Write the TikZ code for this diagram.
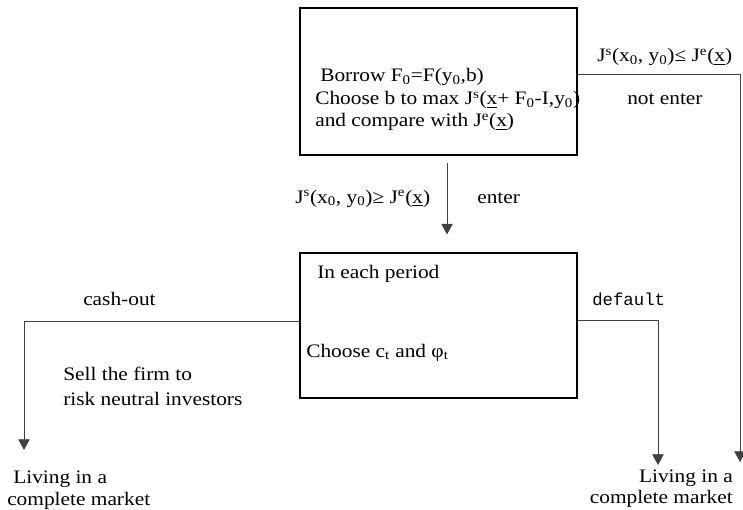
\documentclass[tikz,border=0pt]{standalone}
\usepackage{fontspec}
\setmainfont[FakeStretch=1.12]{Liberation Serif}
\setmonofont{Liberation Mono}
\usetikzlibrary{arrows.meta}
\newcommand{\xu}{\underline{x}}
\newcommand{\J}[1]{J\textsuperscript{#1}}
\newcommand{\sub}[1]{\textsubscript{#1}}
\tikzset { boite/.style={draw, line width=.8pt, minimum width=207.75pt, minimum height=#1},
  fleche/.style={draw=black!75, line width=.6pt, -{Triangle[width=8.5pt,length=8pt]}},
  texte/.style={anchor=base west, inner sep=0pt, font=\fontsize{14.3}{17}\selectfont},
  texted/.style={texte, anchor=base east} }

\begin{document}
\begin{tikzpicture}[x=.75pt, y=-.75pt]
  \useasboundingbox (0,0) rectangle (743,510);
	\node[boite=110.25pt] (haut) at (438.5,81.5) {};
	\node[boite=108.75pt] (bas) at (438.5,325.5) {};
	% texte des boites
	\node[texte] (h1) at (320,82) {Borrow F\sub{0}=F(y\sub{0},b)};
	\node[texte] (h2) at (315,105) {Choose b to max \J{s}(\xu+ F\sub{0}-I,y\sub{0})};
	\node[texte] (h3) at (315,127) {and compare with \J{e}(\xu)};
	\node[texte] (b1) at (317,278) {In each period};
	\node[texte] (b2) at (306,357) {Choose c\sub{t} and φ\sub{t}};
	% fleches
	\coordinate (fin1) at (24,450);
	\coordinate (fin2) at (658,465);
	\coordinate (fin3) at (740,462);
	\draw[fleche] ([xshift=6.4pt,yshift=-5.25pt]haut.south) -- ([xshift=6.4pt,yshift=13.5pt]bas.north);
	\draw[fleche] ([yshift=5.6pt]haut.east) -| (fin3);
	\draw[fleche] ([yshift=4.1pt]bas.east) -| (fin2);
	\draw[fleche] ([yshift=3.4pt]bas.west) -| (fin1);
	% etiquettes
	\node[texte] (ne) at (597,62) {\J{s}(x\sub{0}, y\sub{0})≤ \J{e}(\xu)};
	\node[texte] (ne2) at (627,105) {not enter};
	\node[texte] (en) at (295,203) {\J{s}(x\sub{0}, y\sub{0})≥ \J{e}(\xu)};
	\node[texte] (en2) at (477,203) {enter};
	\node[texte, font=\fontsize{13}{15}\ttfamily] (def) at (592,305) {default};
	\node[texte] (co) at (83,305) {cash-out};
	\node[texte] (v1) at (63,380) {Sell the firm to};
	\node[texte] (v2) at (63,405) {risk neutral investors};
	\node[texte] (g1) at (13,483) {Living in a};
	\node[texte] (g2) at (7,505) {complete market};
	\node[texted] (d1) at (733,482) {Living in a};
	\node[texted] (d2) at (733,503) {complete market};
\end{tikzpicture}
\end{document}
